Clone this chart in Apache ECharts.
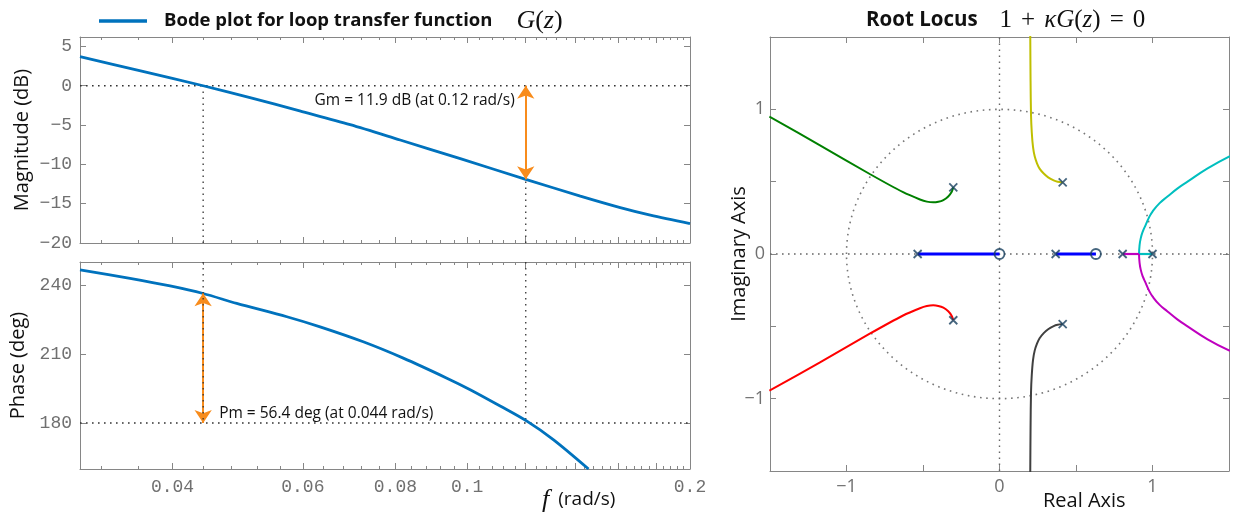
<!DOCTYPE html>
<html>
<head>
<meta charset="utf-8">
<script src="https://cdn.jsdelivr.net/npm/echarts@6/dist/echarts.min.js"></script>
<style>
html,body{margin:0;padding:0;background:#ffffff;}
#chart{width:1234px;height:513px;}
</style>
</head>
<body>
<div id="chart"></div>
<script>
// ---------------- Bode plot data ----------------
const magFreq   = [0.03, 0.0361, 0.044, 0.0509, 0.0594, 0.0695, 0.0812, 0.0979, 0.12, 0.1422, 0.161, 0.1768, 0.2];
const magDb     = [3.7, 1.92, 0, -1.5, -3.2, -4.95, -6.9, -9.27, -11.9, -14.03, -15.49, -16.45, -17.53];
const phaseFreq = [0.03, 0.03505, 0.0397, 0.044, 0.04884, 0.05709, 0.0633, 0.07239, 0.08199, 0.0939,
                   0.10096, 0.11082, 0.12043, 0.13086, 0.14589];
const phaseDeg  = [246.6, 242.9, 239.6, 236.3, 232.0, 226.2, 221.8, 215.3, 208.2, 199.5,
                   194.5, 187.4, 180.8, 172.7, 160.0];

const freqLabelTicks = [0.04, 0.06, 0.08, 0.1, 0.2];
const freqMajorTicks = [0.04, 0.06, 0.08, 0.1, 0.12, 0.14, 0.16, 0.18, 0.2];
const freqMinorTicks = [0.032, 0.036, 0.044, 0.048, 0.052, 0.056, 0.064, 0.068, 0.072, 0.076,
                        0.084, 0.088, 0.092, 0.096, 0.104, 0.108, 0.112, 0.116, 0.124, 0.128,
                        0.132, 0.136, 0.144, 0.148, 0.152, 0.156, 0.164, 0.168, 0.172, 0.176,
                        0.184, 0.188, 0.192, 0.196];
const magTicks   = [-20, -15, -10, -5, 0, 5];
const phaseTicks = [180, 210, 240];

const gainMarginDb = 11.9, gainMarginFreq = 0.12;
const phaseMarginDeg = 56.4, phaseMarginFreq = 0.044;
const phaseCrossDeg = 180;

// ---------------- Root locus data ----------------
const rlPoles = [[-0.535, 0], [0.367, 0], [0.805, 0], [1.0, 0],
                 [-0.302, 0.461], [-0.302, -0.458], [0.413, 0.495], [0.413, -0.484]];
const rlZeros = [[0, 0], [0.63, 0]];
const rlBlueA = [[-0.535, 0], [0, 0]];
const rlBlueB = [[0.367, 0], [0.63, 0]];
const rlGreen = [[-0.302, 0.461], [-0.312, 0.43], [-0.335, 0.398], [-0.367, 0.373], [-0.4, 0.361],
                 [-0.433, 0.357], [-0.475, 0.362], [-0.52, 0.377], [-0.63, 0.427], [-0.848, 0.553],
                 [-1.176, 0.753], [-1.504, 0.95]];
const rlRed   = [[-0.302, -0.458], [-0.312, -0.428], [-0.335, -0.396], [-0.367, -0.371], [-0.4, -0.359],
                 [-0.433, -0.355], [-0.475, -0.36], [-0.52, -0.375], [-0.63, -0.425], [-0.848, -0.551],
                 [-1.176, -0.751], [-1.504, -0.945]];
const rlYellow = [[0.413, 0.495], [0.38, 0.5], [0.354, 0.509], [0.318, 0.53], [0.289, 0.556],
                  [0.262, 0.59], [0.245, 0.627], [0.23, 0.675], [0.219, 0.74], [0.211, 0.84],
                  [0.206, 0.96], [0.203, 1.2], [0.201, 1.52]];
const rlDark   = [[0.413, -0.484], [0.38, -0.489], [0.354, -0.498], [0.318, -0.52], [0.289, -0.547],
                  [0.262, -0.582], [0.245, -0.62], [0.23, -0.668], [0.219, -0.733], [0.211, -0.835],
                  [0.206, -0.955], [0.203, -1.2], [0.201, -1.52]];
const rlCyanAxis = [[1.0, 0], [0.912, 0]];
const rlCyan     = [[0.912, 0], [0.915, 0.055], [0.923, 0.108], [0.937, 0.157], [0.955, 0.2],
                    [0.976, 0.25], [1.0, 0.293], [1.045, 0.35], [1.098, 0.397], [1.16, 0.45],
                    [1.229, 0.5], [1.36, 0.592], [1.506, 0.677]];
const rlMagentaAxis = [[0.805, 0], [0.912, 0]];
const rlMagenta     = [[0.912, 0], [0.915, -0.055], [0.923, -0.108], [0.937, -0.157], [0.955, -0.2],
                       [0.976, -0.25], [1.0, -0.293], [1.045, -0.35], [1.098, -0.397], [1.16, -0.45],
                       [1.229, -0.5], [1.36, -0.59], [1.506, -0.67]];
const rlAxisTicks  = [-1.5, -1, -0.5, 0, 0.5, 1, 1.5];
const rlAxisLabels = [-1, 0, 1];
const unitCircle = [[0, 0, 1]]; // centre x, centre y, radius

// ---------------- axis limits ----------------
const fMin = 0.03, fMax = 0.2;
const magMin = -20, magMax = 6.2;
const phMin = 160, phMax = 250;
const rlMin = -1.5, rlMax = 1.5;

// ---------------- styling ----------------
const SANS = 'Open Sans';
const SERIF = 'Liberation Serif';
const BOX = '#868686';
const TICKTXT = '#707070';
const monoLabel = {fontFamily: 'Liberation Mono', fontSize: 18, color: TICKTXT};
const sansLabel = {fontFamily: SANS, fontSize: 18, color: TICKTXT};
const nameStyle = {fontFamily: SANS, fontSize: 20, color: '#111'};
const minus = v => (v < 0 ? '\u2212' + String(-v) : String(v));
const zip = (xs, ys) => xs.map((x, i) => [x, ys[i]]);

function freqAxis(gridIndex, position, ticks, len, showLine, showLabels) {
  return {
    type: 'log', logBase: 10, gridIndex, position, min: fMin, max: fMax,
    axisLine: {show: showLine, onZero: false, lineStyle: {color: BOX, width: 1}},
    axisTick: {show: true, inside: true, length: len, customValues: ticks, lineStyle: {color: BOX, width: 1}},
    axisLabel: Object.assign({show: showLabels, customValues: freqLabelTicks, margin: 9,
      formatter: v => String(+(+v).toPrecision(3))}, monoLabel),
    minorTick: {show: false}, splitLine: {show: false}
  };
}
function valAxis(gridIndex, position, min, max, tickVals, labelVals, labelStyle, showLabels, extra) {
  return Object.assign({
    type: 'value', gridIndex, position, min, max,
    axisLine: {show: true, onZero: false, lineStyle: {color: BOX, width: 1}},
    axisTick: {show: true, inside: true, length: 6, customValues: tickVals, lineStyle: {color: BOX, width: 1}},
    axisLabel: Object.assign({show: showLabels, customValues: labelVals, formatter: minus, margin: 8}, labelStyle),
    splitLine: {show: false}, minorTick: {show: false}, nameMoveOverlap: false
  }, extra || {});
}

const dotted = {color: '#333', width: 1.3, type: [1.6, 4.4]};
const dottedGray = {color: '#666', width: 1.4, type: [1.6, 4.4]};
const ORANGE = '#f88c1c';

function refLine(xi, yi, data, style, z) {
  return {type: 'line', xAxisIndex: xi, yAxisIndex: yi, data, symbol: 'none', silent: true,
          lineStyle: style, z: z || 2, animation: false};
}
function rlLine(data, color, width, smooth) {
  return {type: 'line', xAxisIndex: 8, yAxisIndex: 4, data, symbol: 'none', silent: true,
          smooth: smooth || 0, lineStyle: {color, width: width || 2}, z: 3};
}
const titleRich = {
  b: {fontFamily: SANS, fontWeight: 'bold', fontSize: 20.5, color: '#111'},
  bl: {fontFamily: SANS, fontWeight: 'bold', fontSize: 18.5, color: '#111'},
  g: {fontFamily: SERIF, fontStyle: 'italic', fontWeight: 'normal', fontSize: 25, color: '#111'},
  r: {fontFamily: SERIF, fontWeight: 'normal', fontSize: 25, color: '#111'},
  gl: {fontFamily: SERIF, fontStyle: 'italic', fontWeight: 'normal', fontSize: 26, color: '#111'},
  rl: {fontFamily: SERIF, fontWeight: 'normal', fontSize: 26, color: '#111'},
  op: {fontFamily: SERIF, fontWeight: 'normal', fontSize: 25, color: '#111', padding: [0, 9, 0, 9]},
  sp1: {width: 12},
  sp2: {width: 24},
  sp3: {width: 22}
};

const option = {
  animation: false,
  backgroundColor: '#fff',
  grid: [
    {left: 80, top: 37, width: 610, height: 206, containLabel: false, outerBoundsMode: 'none'},
    {left: 80, top: 262, width: 610, height: 207, containLabel: false, outerBoundsMode: 'none'},
    {left: 770, top: 37, width: 459, height: 434, containLabel: false, outerBoundsMode: 'none'}
  ],
  legend: {
    left: 94, top: 3, icon: 'rect', itemWidth: 48, itemHeight: 3.5, itemGap: 0,
    data: ['Bode plot for loop transfer function'],
    formatter: () => '{sp1|}{bl|Bode plot for loop transfer function}{sp2|}{gl|G}{rl|(}{gl|z}{rl|)}',
    textStyle: {rich: titleRich}
  },
  title: [
    {
      left: 861, top: 3,
      text: '{b|Root Locus}{sp3|}{r|1}{op|+}{g|κG}{r|(}{g|z}{r|)}{op|=}{r|0}',
      textStyle: {rich: titleRich}
    },
    {
      left: 537, top: 482,
      text: '{g|f}{s|(rad/s)}',
      textStyle: {
        rich: {
          g: {fontFamily: SERIF, fontStyle: 'italic', fontWeight: 'normal', fontSize: 26, color: '#111', padding: [0, 9, 0, 0]},
          s: {fontFamily: SANS, fontWeight: 'normal', fontSize: 19, color: '#111'}
        }
      }
    },
    {
      left: 1038, top: 486,
      text: 'Real Axis',
      textStyle: {fontFamily: SANS, fontWeight: 'normal', fontSize: 20, color: '#111'}
    }
  ],
  xAxis: [
    freqAxis(0, 'bottom', freqMajorTicks, 6, true, false),
    freqAxis(0, 'bottom', freqMinorTicks, 3, false, false),
    freqAxis(0, 'top', freqMajorTicks, 6, true, false),
    freqAxis(0, 'top', freqMinorTicks, 3, false, false),
    freqAxis(1, 'bottom', freqMajorTicks, 6, true, true),
    freqAxis(1, 'bottom', freqMinorTicks, 3, false, false),
    freqAxis(1, 'top', freqMajorTicks, 6, true, false),
    freqAxis(1, 'top', freqMinorTicks, 3, false, false),
    valAxis(2, 'bottom', rlMin, rlMax, rlAxisTicks, rlAxisLabels, sansLabel, true, {axisLabel: Object.assign(
      {show: true, customValues: rlAxisLabels, formatter: minus, margin: 7}, sansLabel)}),
    valAxis(2, 'top', rlMin, rlMax, rlAxisTicks, rlAxisLabels, sansLabel, false)
  ],
  yAxis: [
    valAxis(0, 'left', magMin, magMax, magTicks, magTicks, monoLabel, true,
      {name: 'Magnitude (dB)', nameLocation: 'middle', nameGap: 48, nameRotate: 90, nameTextStyle: nameStyle}),
    valAxis(0, 'right', magMin, magMax, magTicks, magTicks, monoLabel, false),
    valAxis(1, 'left', phMin, phMax, phaseTicks, phaseTicks, monoLabel, true,
      {name: 'Phase (deg)', nameLocation: 'middle', nameGap: 52, nameRotate: 90, nameTextStyle: nameStyle}),
    valAxis(1, 'right', phMin, phMax, phaseTicks, phaseTicks, monoLabel, false),
    valAxis(2, 'left', rlMin, rlMax, rlAxisTicks, rlAxisLabels, sansLabel, true,
      {name: 'Imaginary Axis', nameLocation: 'middle', nameGap: 21, nameRotate: 90, nameTextStyle: nameStyle,
       axisLabel: Object.assign({show: true, customValues: rlAxisLabels, formatter: minus, margin: 5}, sansLabel)}),
    valAxis(2, 'right', rlMin, rlMax, rlAxisTicks, rlAxisLabels, sansLabel, false)
  ],
  series: [
    // Bode magnitude
    {name: 'Bode plot for loop transfer function', type: 'line', xAxisIndex: 0, yAxisIndex: 0,
     data: zip(magFreq, magDb), symbol: 'none', smooth: 0.3,
     lineStyle: {color: '#0072BD', width: 2.8}, itemStyle: {color: '#0072BD'}, z: 5},
    // Bode phase
    {name: 'phase', type: 'line', xAxisIndex: 4, yAxisIndex: 2,
     data: zip(phaseFreq, phaseDeg), symbol: 'none', smooth: 0.3,
     lineStyle: {color: '#0072BD', width: 2.8}, z: 5},
    // reference lines
    refLine(0, 0, [[fMin, 0], [fMax, 0]], dotted),
    refLine(0, 0, [[phaseMarginFreq, magMin], [phaseMarginFreq, 0]], dotted),
    refLine(0, 0, [[gainMarginFreq, magMin], [gainMarginFreq, 0]], dotted),
    refLine(4, 2, [[fMin, phaseCrossDeg], [fMax, phaseCrossDeg]], dotted),
    refLine(4, 2, [[phaseMarginFreq, phMax], [phaseMarginFreq, phaseCrossDeg]], dotted, 7),
    refLine(4, 2, [[gainMarginFreq, phMax], [gainMarginFreq, phaseCrossDeg]], dotted),
    // margin arrows
    {type: 'lines', coordinateSystem: 'cartesian2d', xAxisIndex: 0, yAxisIndex: 0, silent: true,
     symbol: ['arrow', 'arrow'], symbolSize: 13, z: 6,
     lineStyle: {color: ORANGE, width: 2, opacity: 1},
     data: [{coords: [[gainMarginFreq, 0], [gainMarginFreq, -gainMarginDb]]}]},
    {type: 'lines', coordinateSystem: 'cartesian2d', xAxisIndex: 4, yAxisIndex: 2, silent: true,
     symbol: ['arrow', 'arrow'], symbolSize: 13, z: 6,
     lineStyle: {color: ORANGE, width: 2, opacity: 1},
     data: [{coords: [[phaseMarginFreq, phaseCrossDeg + phaseMarginDeg], [phaseMarginFreq, phaseCrossDeg]]}]},
    // root locus reference: axes through origin and unit circle
    refLine(8, 4, [[rlMin, 0], [rlMax, 0]], dottedGray, 1),
    refLine(8, 4, [[0, rlMin], [0, rlMax]], dottedGray, 1),
    {type: 'custom', xAxisIndex: 8, yAxisIndex: 4, coordinateSystem: 'cartesian2d', silent: true, z: 1,
     data: unitCircle, encode: {x: 0, y: 1},
     renderItem: (params, api) => {
       const c = api.coord([api.value(0), api.value(1)]);
       const s = api.size([api.value(2), api.value(2)]);
       return {type: 'ellipse', shape: {cx: c[0], cy: c[1], rx: s[0], ry: s[1]},
               style: {fill: null, stroke: '#777', lineWidth: 1.6, lineDash: [1.6, 4.6]}};
     }},
    // root locus branches
    rlLine(rlGreen, '#008000', 2, 0.3),
    rlLine(rlRed, '#ff0000', 2, 0.3),
    rlLine(rlYellow, '#bfbf00', 2, 0.3),
    rlLine(rlDark, '#404040', 2, 0.3),
    rlLine(rlCyanAxis, '#00bfbf', 2.2),
    rlLine(rlCyan, '#00bfbf', 2, 0.5),
    rlLine(rlMagentaAxis, '#bf00bf', 2.2),
    rlLine(rlMagenta, '#bf00bf', 2, 0.5),
    rlLine(rlBlueA, '#0000ff', 3),
    rlLine(rlBlueB, '#0000ff', 3),
    // poles and zeros
    {type: 'scatter', xAxisIndex: 8, yAxisIndex: 4, data: rlPoles, silent: true, z: 8,
     symbol: 'path://M0 0L10 10M10 0L0 10', symbolSize: 8,
     itemStyle: {color: 'rgba(0,0,0,0)', borderColor: '#163f5e', borderWidth: 1.8}},
    {type: 'scatter', xAxisIndex: 8, yAxisIndex: 4, data: rlZeros, silent: true, z: 8,
     symbol: 'circle', symbolSize: 10,
     itemStyle: {color: 'rgba(0,0,0,0)', borderColor: '#163f5e', borderWidth: 1.8}}
  ]
};

const chart = echarts.init(document.getElementById('chart'), null, {renderer: 'canvas'});
chart.setOption(option);

// annotation texts anchored to the margin positions through the axes
const gmPx = chart.convertToPixel({xAxisIndex: 0, yAxisIndex: 0}, [gainMarginFreq, 0]);
const pmPx = chart.convertToPixel({xAxisIndex: 4, yAxisIndex: 2}, [phaseMarginFreq, phaseCrossDeg]);
chart.setOption({
  graphic: [
    {type: 'text', x: gmPx[0] - 11, y: gmPx[1] + 15, silent: true,
     style: {text: 'Gm = ' + gainMarginDb + ' dB (at ' + gainMarginFreq + ' rad/s)', fill: '#111',
             font: '15.5px "Open Sans"', align: 'right', verticalAlign: 'middle'}},
    {type: 'text', x: pmPx[0] + 16, y: pmPx[1] - 9, silent: true,
     style: {text: 'Pm = ' + phaseMarginDeg + ' deg (at ' + phaseMarginFreq + ' rad/s)', fill: '#111',
             font: '15.5px "Open Sans"', align: 'left', verticalAlign: 'middle'}}
  ]
});
</script>
</body>
</html>
